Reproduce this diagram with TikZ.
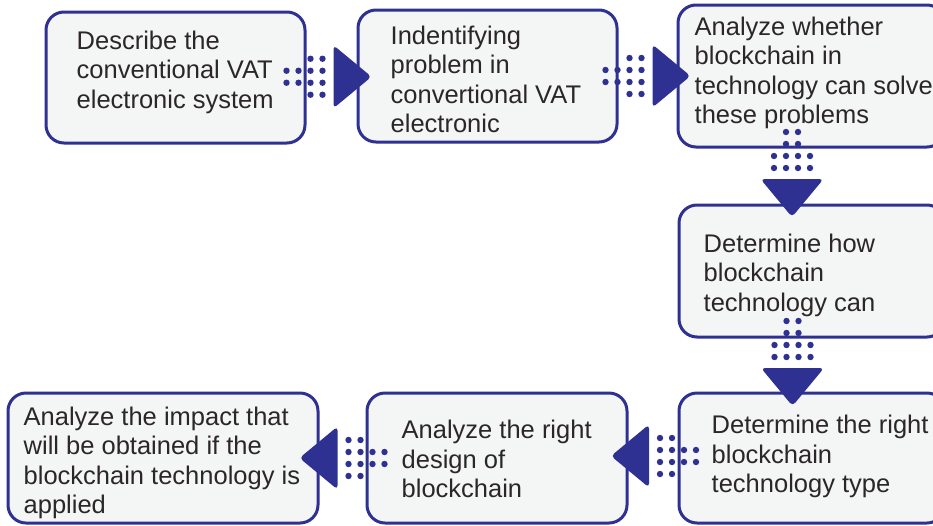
\documentclass[tikz,border=0pt]{standalone}
\usepackage{fontspec}
\setmainfont{Liberation Sans}
\usetikzlibrary{positioning,calc}

\definecolor{flowblue}{HTML}{2E3192}
\definecolor{boxgrey}{HTML}{F4F5F5}
\definecolor{ink}{HTML}{2B2627}

\begin{document}
\begin{tikzpicture}[x=1pt,y=-1pt,
  stage/.style={draw=flowblue, fill=boxgrey, line width=3pt, rounded corners=18pt, inner sep=0pt},
  note/.style={inner sep=0pt, align=left, text=ink, font=\fontsize{25.5}{29.5}\selectfont},
  flowarrow/.pic={
    \foreach \x in {-42,-30} \foreach \y in {-6,6}
      \fill[flowblue] (\x,\y) circle (3.2pt);
    \foreach \x in {-18,-6} \foreach \y in {-18,-6,6,18}
      \fill[flowblue] (\x,\y) circle (3.2pt);
    \fill[flowblue, rounded corners=4pt] (5,-31.5) -- (43,0) -- (5,31.5) -- cycle;
  }]

  \clip (0,0) rectangle (933,525);
  \fill[white] (0,0) rectangle (933,525);

% define the steps
  \node[stage, minimum width=259pt, minimum height=131pt] (describe)   at (175.5,77.5) {};
  \node[stage, minimum width=259pt, minimum height=132pt] (identify)   at (487.5,76) {};
  \node[stage, minimum width=267pt, minimum height=142pt] (analyze)    at (811.5,76) {};
  \node[stage, minimum width=266pt, minimum height=132pt] (howto)      at (812,271) {};
  \node[stage, minimum width=266pt, minimum height=130pt] (typechoice) at (812,458) {};
  \node[stage, minimum width=260pt, minimum height=130pt] (design)     at (497,458) {};
  \node[stage, minimum width=310pt, minimum height=130pt] (impact)     at (163,458) {};

% texts of the steps
  \node[note, anchor=north west, below right=20pt and 32pt of describe.north west] (describe-txt)
    {Describe the\\conventional VAT\\electronic system};
  \node[note, anchor=north west, below right=17pt and 34pt of identify.north west] (identify-txt)
    {Indentifying\\problem in\\convertional VAT\\electronic};
  \node[note, anchor=north west, below right=13pt and 18pt of analyze.north west] (analyze-txt)
    {Analyze whether\\blockchain in\\technology can solve\\these problems};
  \node[note, anchor=north west, below right=30pt and 26pt of howto.north west] (howto-txt)
    {Determine how\\blockchain\\technology can};
  \node[note, anchor=north west, below right=23.7pt and 34pt of typechoice.north west] (typechoice-txt)
    {Determine the right\\blockchain\\technology type};
  \node[note, anchor=north west, below right=28.7pt and 36pt of design.north west] (design-txt)
    {Analyze the right\\design of\\blockchain};
  \node[note, anchor=north west, below right=15.3pt and 17pt of impact.north west] (impact-txt)
    {Analyze the impact that\\will be obtained if the\\blockchain technology is\\applied};

% define the links
  \pic at ($(describe.east)!.5!(identify.west)+(-3,0)$) {flowarrow};
  \pic at ($(identify.east)!.5!(analyze.west)$) {flowarrow};
  \pic[rotate=-90] at ($(analyze.south west)!.5!(howto.north west)+(115,-2)$) {flowarrow};
  \pic[rotate=-90] at ($(howto.south west)!.5!(typechoice.north west)+(115,-2)$) {flowarrow};
  \pic[rotate=180] at ($(typechoice.west)!.5!(design.east)+(1,-2)$) {flowarrow};
  \pic[rotate=180] at ($(design.west)!.5!(impact.east)$) {flowarrow};

\end{tikzpicture}
\end{document}
